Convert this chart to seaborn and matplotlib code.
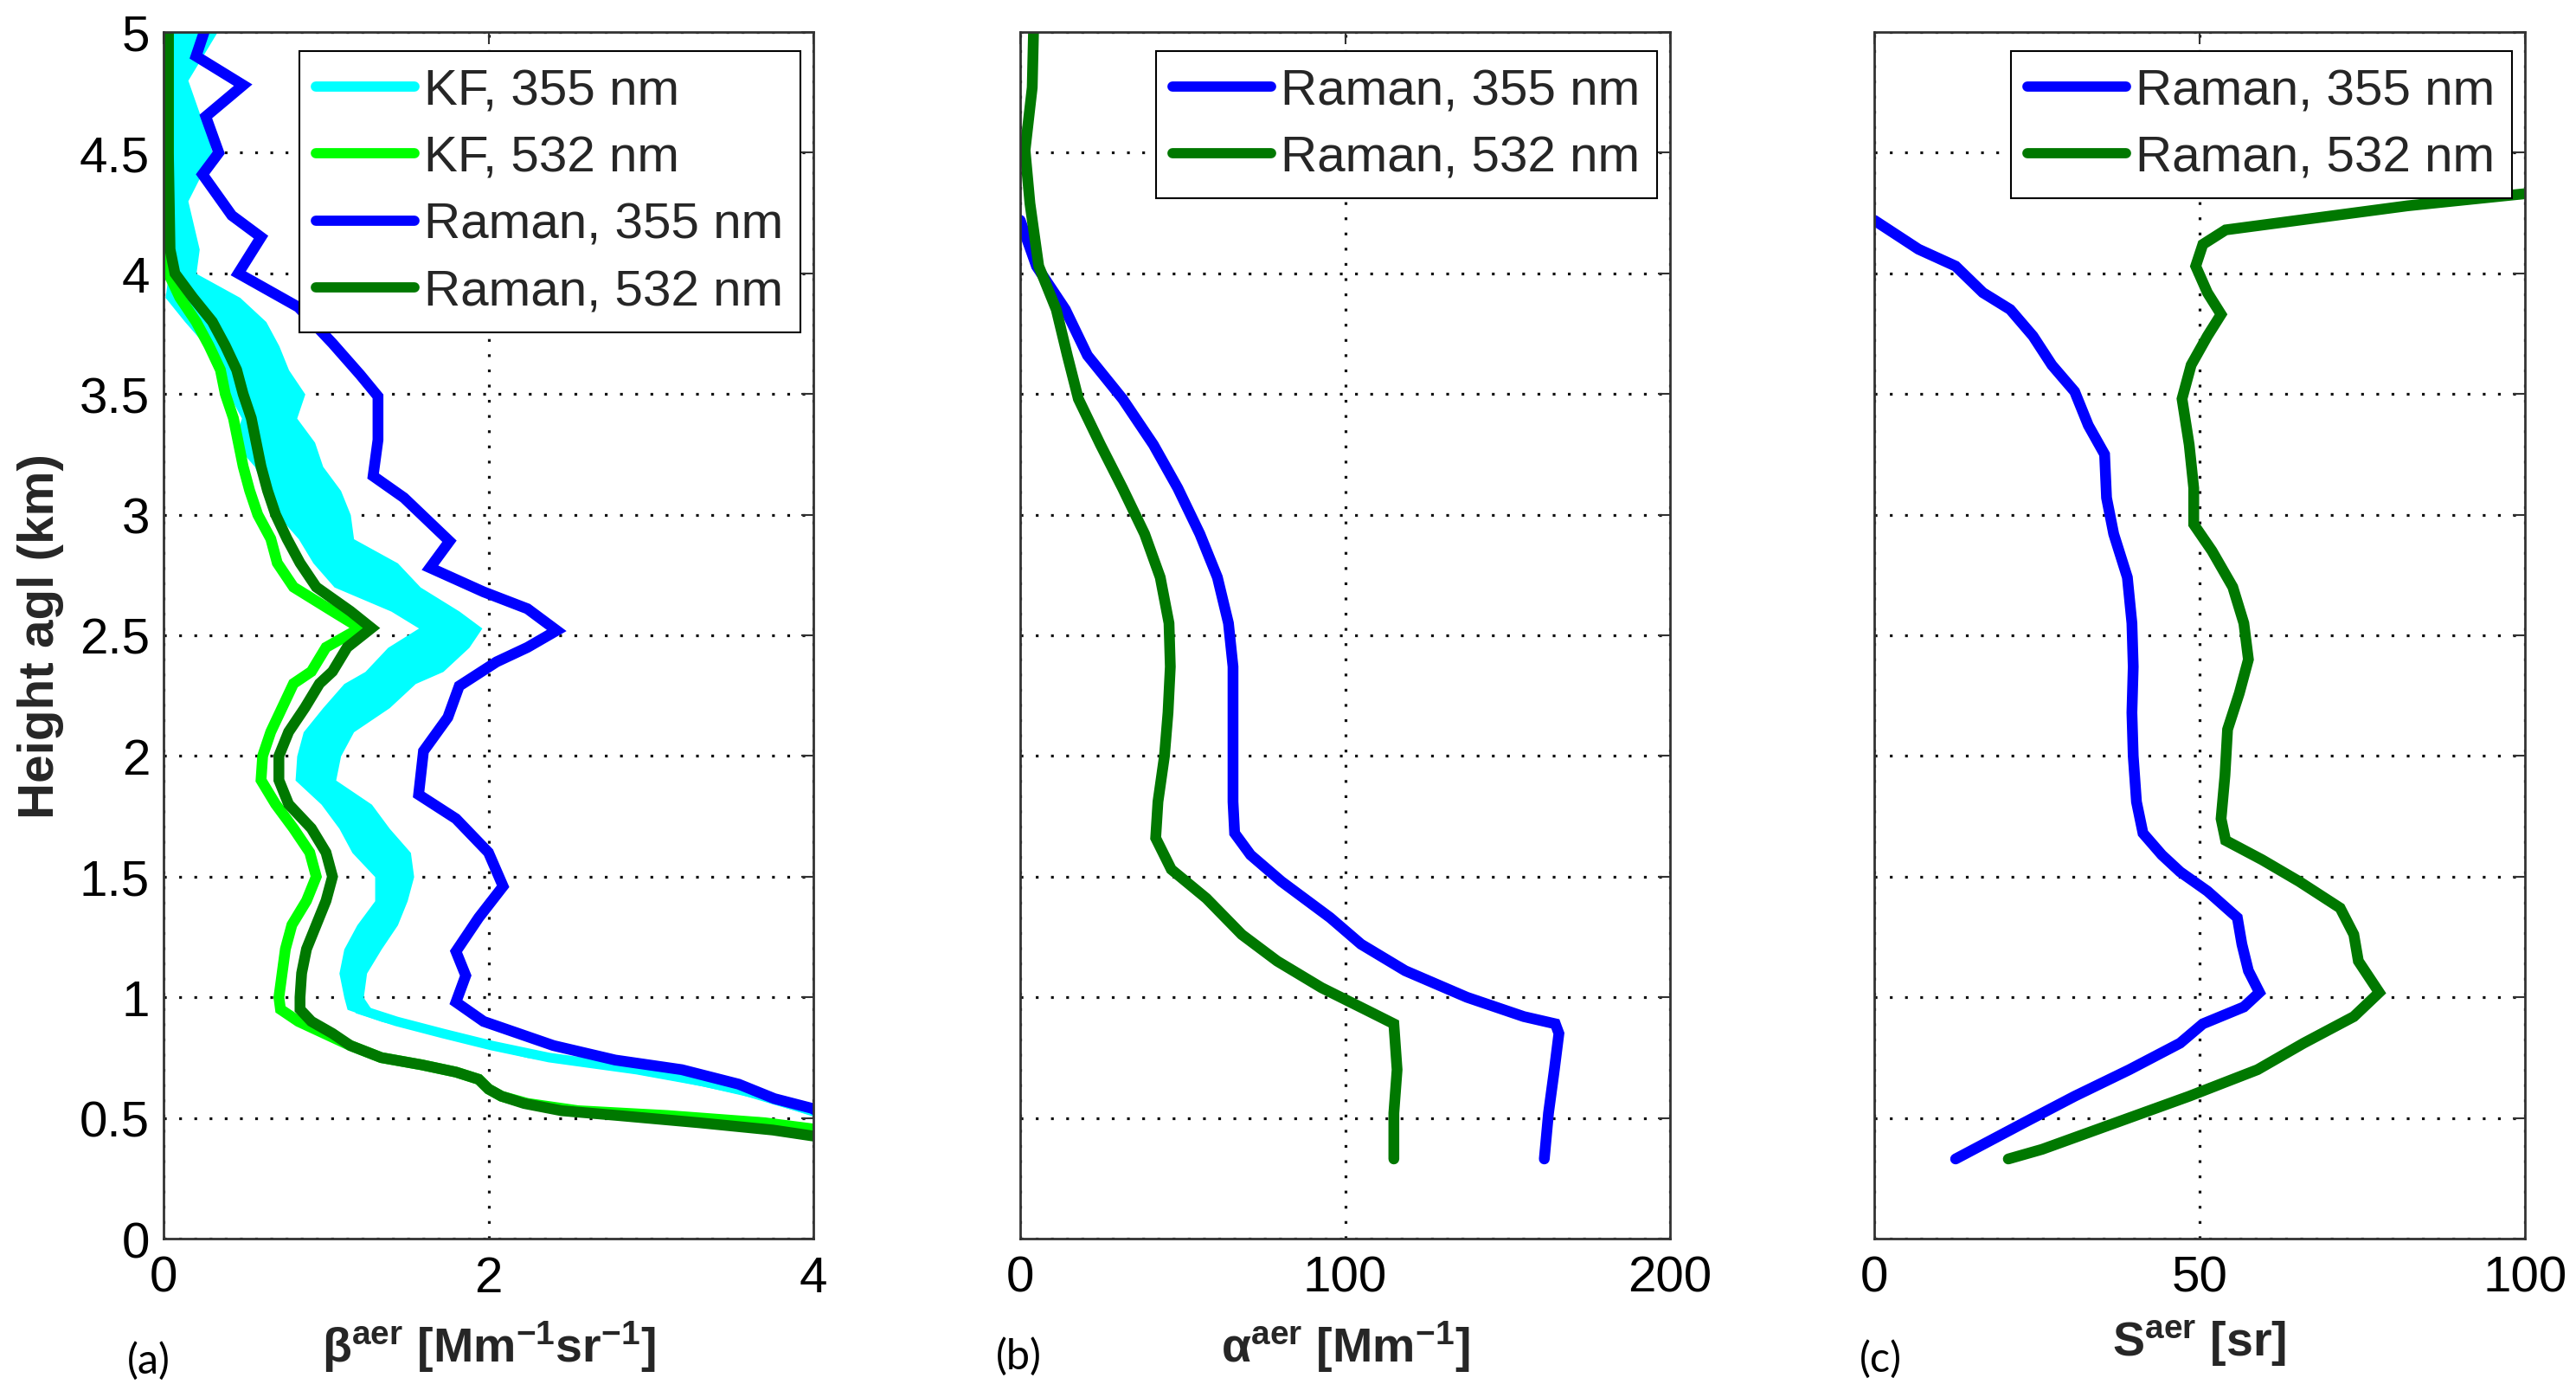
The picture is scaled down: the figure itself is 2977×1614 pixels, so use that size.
import matplotlib
matplotlib.use("Agg")
import matplotlib.pyplot as plt
import seaborn as sns
import numpy as np
import pandas as pd

# ---------------- data ----------------
# Panel (a): backscatter coefficient [Mm-1 sr-1] vs height [km]
h_b355_raman = [5.0, 4.9, 4.78, 4.65, 4.5, 4.41, 4.24, 4.15, 4.0, 3.86, 3.71, 3.58, 3.49, 3.31,
                3.16, 3.07, 2.89, 2.78, 2.68, 2.61, 2.52, 2.45, 2.39, 2.29, 2.16, 2.02, 1.84, 1.74,
                1.6, 1.46, 1.33, 1.19, 1.09, 0.98, 0.90, 0.80, 0.74, 0.70, 0.64, 0.58, 0.54, 0.50]
b355_raman = [0.25, 0.2, 0.49, 0.26, 0.34, 0.24, 0.42, 0.6, 0.46, 0.83, 1.04, 1.21, 1.32, 1.32,
              1.29, 1.48, 1.76, 1.64, 1.97, 2.24, 2.42, 2.24, 2.05, 1.82, 1.75, 1.60, 1.57, 1.80,
              2.0, 2.09, 1.94, 1.80, 1.86, 1.80, 1.97, 2.40, 2.78, 3.19, 3.54, 3.76, 3.99, 4.1]

h_b355_kf = [5.0, 4.8, 4.55, 4.5, 4.3, 4.1, 4.0, 3.9, 3.8, 3.7, 3.6, 3.5, 3.4, 3.3, 3.2, 3.1, 3.0,
             2.9, 2.8, 2.7, 2.6, 2.53, 2.45, 2.35, 2.3, 2.2, 2.1, 2.0, 1.9, 1.8, 1.7, 1.6, 1.5, 1.4,
             1.3, 1.2, 1.1, 1.0, 0.95, 0.9, 0.85, 0.8, 0.75, 0.7, 0.65, 0.6, 0.55, 0.5]
b355_kf_lo = [0.05, 0.05, 0.05, 0.05, 0.05, 0.05, 0.03, 0.01, 0.13, 0.26, 0.32, 0.40, 0.48, 0.43,
              0.56, 0.62, 0.70, 0.83, 0.92, 1.05, 1.40, 1.57, 1.38, 1.24, 1.11, 0.98, 0.86, 0.82,
              0.81, 0.97, 1.08, 1.16, 1.30, 1.30, 1.19, 1.11, 1.08, 1.11, 1.13, 1.34, 1.64, 1.94,
              2.24, 2.78, 3.19, 3.54, 3.79, 4.05]
b355_kf_hi = [0.33, 0.15, 0.28, 0.30, 0.15, 0.22, 0.20, 0.47, 0.63, 0.71, 0.77, 0.87, 0.82, 0.93,
              0.98, 1.09, 1.15, 1.17, 1.44, 1.58, 1.82, 1.96, 1.88, 1.72, 1.55, 1.39, 1.17, 1.09,
              1.06, 1.28, 1.39, 1.52, 1.54, 1.50, 1.44, 1.34, 1.25, 1.23, 1.28, 1.53, 1.80, 2.10,
              2.51, 3.05, 3.46, 3.76, 3.99, 4.2]

h_b532 = [5.0, 4.5, 4.1, 4.0, 3.9, 3.8, 3.7, 3.6, 3.5, 3.4, 3.3, 3.2, 3.1, 3.0, 2.9, 2.8, 2.7, 2.6,
          2.53, 2.45, 2.35, 2.3, 2.2, 2.1, 2.0, 1.9, 1.8, 1.7, 1.6, 1.5, 1.4, 1.3, 1.2, 1.1, 1.0,
          0.95, 0.9, 0.85, 0.8, 0.75, 0.72, 0.69, 0.66, 0.62, 0.59, 0.56, 0.53, 0.51, 0.48, 0.45, 0.42]
b532_kf = [0.03, 0.03, 0.03, 0.03, 0.10, 0.20, 0.28, 0.35, 0.38, 0.43, 0.46, 0.49, 0.53, 0.58, 0.66,
           0.70, 0.80, 1.04, 1.21, 1.0, 0.91, 0.80, 0.73, 0.66, 0.61, 0.60, 0.69, 0.80, 0.90, 0.94,
           0.88, 0.79, 0.75, 0.73, 0.71, 0.72, 0.83, 0.99, 1.15, 1.34, 1.59, 1.80, 1.94, 2.0, 2.08,
           2.24, 2.55, 3.1, 3.7, 4.05, 4.3]
b532_raman = [0.03, 0.03, 0.04, 0.07, 0.18, 0.30, 0.38, 0.45, 0.49, 0.54, 0.57, 0.60, 0.64, 0.69,
              0.76, 0.84, 0.94, 1.15, 1.28, 1.13, 1.04, 0.96, 0.87, 0.77, 0.71, 0.71, 0.77, 0.91,
              1.0, 1.04, 1.0, 0.94, 0.88, 0.85, 0.84, 0.84, 0.91, 1.04, 1.15, 1.34, 1.59, 1.80, 1.94,
              2.0, 2.08, 2.22, 2.45, 2.8, 3.3, 3.75, 4.05]

# Panel (b): extinction coefficient [Mm-1]
h_a355 = [4.22, 4.03, 3.85, 3.66, 3.48, 3.29, 3.11, 2.92, 2.74, 2.55, 2.37, 2.18, 2.0, 1.81, 1.68,
          1.59, 1.48, 1.33, 1.22, 1.11, 1.0, 0.92, 0.89, 0.85, 0.70, 0.52, 0.33]
a355 = [0, 5, 13.9, 20.7, 31.5, 41, 48.5, 55.3, 60.7, 64.1, 65.5, 65.5, 65.5, 65.5, 66, 70.9, 80.4,
        95.4, 104.9, 118.5, 137.5, 155, 164.7, 165.8, 164.4, 162.6, 161.3]
h_a532 = [5.0, 4.77, 4.51, 4.29, 4.03, 3.85, 3.66, 3.48, 3.29, 3.11, 2.92, 2.74, 2.55, 2.37, 2.18,
          2.0, 1.81, 1.66, 1.53, 1.41, 1.26, 1.15, 1.04, 0.94, 0.89, 0.70, 0.52, 0.33]
a532 = [4.1, 3.7, 1.5, 3.0, 5.7, 11.1, 14.5, 17.9, 24.7, 31.5, 38.3, 43.1, 45.8, 46.2, 45.5, 44.4,
        42.4, 41.7, 46.5, 57.3, 68.2, 79.1, 92.7, 107.6, 115, 116, 115, 115]

# Panel (c): lidar ratio [sr]
h_s355 = [4.22, 4.1, 4.03, 3.92, 3.85, 3.74, 3.62, 3.51, 3.37, 3.25, 3.07, 2.92, 2.74, 2.55, 2.37,
          2.18, 2.0, 1.81, 1.68, 1.59, 1.52, 1.44, 1.33, 1.22, 1.11, 1.02, 0.96, 0.89, 0.81, 0.70,
          0.59, 0.48, 0.41, 0.33]
s355 = [0, 6.8, 12.5, 16.7, 20.9, 24.4, 27.3, 30.8, 32.9, 35.4, 35.7, 36.8, 38.9, 39.6, 39.8, 39.6,
        39.8, 40.3, 41.3, 44.2, 47, 51.2, 55.8, 56.5, 57.5, 59.2, 56.8, 50.5, 47, 39.2, 30.8, 23,
        18.1, 12.5]
h_s532 = [4.36, 4.33, 4.28, 4.23, 4.18, 4.12, 4.03, 3.92, 3.83, 3.74, 3.62, 3.48, 3.29, 3.11, 2.96,
          2.85, 2.70, 2.55, 2.40, 2.26, 2.11, 1.92, 1.74, 1.65, 1.57, 1.48, 1.37, 1.26, 1.15, 1.02,
          0.92, 0.81, 0.70, 0.59, 0.48, 0.37, 0.33]
s532 = [110, 100, 82, 68, 54, 50.5, 49.4, 51.2, 53.3, 51.2, 48.7, 47.3, 48.4, 49.1, 49.1, 51.9, 55.1,
        56.8, 57.5, 56.1, 54.3, 53.9, 53.3, 54, 59.6, 65.3, 71.6, 73.7, 74.4, 77.6, 73.7, 66, 58.9,
        48.4, 37.1, 25.8, 20.6]

y_ticks = [0, 0.5, 1, 1.5, 2, 2.5, 3, 3.5, 4, 4.5, 5]
y_ticklabels = ["0", "0.5", "1", "1.5", "2", "2.5", "3", "3.5", "4", "4.5", "5"]
xticks_a = [0, 2, 4]
xticks_b = [0, 100, 200]
xticks_c = [0, 50, 100]
labels_a = ["KF, 355 nm", "KF, 532 nm", "Raman, 355 nm", "Raman, 532 nm"]
labels_bc = ["Raman, 355 nm", "Raman, 532 nm"]
xlabel_a = r"β$^{\mathbf{aer}}$ [Mm$^{\mathbf{-1}}$sr$^{\mathbf{-1}}$]"
xlabel_b = r"α$^{\mathbf{aer}}$ [Mm$^{\mathbf{-1}}$]"
xlabel_c = r"S$^{\mathbf{aer}}$ [sr]"
ylabel = "Height agl (km)"
panel_tags = ["(a)", "(b)", "(c)"]

# ---------------- style ----------------
sns.set_style("white")
plt.rcParams["font.family"] = ["Liberation Sans", "DejaVu Sans"]
plt.rcParams["mathtext.fontset"] = "custom"
plt.rcParams["mathtext.rm"] = "Liberation Sans"
plt.rcParams["mathtext.bf"] = "Liberation Sans:bold"
plt.rcParams["mathtext.it"] = "Liberation Sans:italic"

C_CYAN = "#00ffff"
C_LIME = "#00ff00"
C_BLUE = "#0000ff"
C_DKGREEN = "#007800"
LW = 9
TICK_FS = 42
LEG_FS = 42
AX_COLOR = "#333333"

W, H = 2977, 1615
fig = plt.figure(figsize=(W / 100, H / 100), dpi=100)
bottom = 1 - 1432 / H
height = 1394 / H
axA = fig.add_axes([189 / W, bottom, 751 / W, height])
axB = fig.add_axes([1179 / W, bottom, 751 / W, height])
axC = fig.add_axes([2166 / W, bottom, 752 / W, height])


def line(ax, x, y, color, label, lw=LW):
    df = pd.DataFrame({"x": x, "y": y})
    sns.lineplot(data=df, x="x", y="y", ax=ax, color=color, lw=lw, label=label,
                 sort=False, estimator=None, solid_joinstyle="miter")


# Panel a
axA.fill_betweenx(h_b355_kf, b355_kf_lo, b355_kf_hi, color=C_CYAN, lw=0, zorder=1.5)
kf_mid = [(a + b) / 2 for a, b in zip(b355_kf_lo, b355_kf_hi)]
line(axA, kf_mid, h_b355_kf, C_CYAN, labels_a[0], lw=8)
line(axA, b532_kf, h_b532, C_LIME, labels_a[1])
line(axA, b355_raman, h_b355_raman, C_BLUE, labels_a[2])
line(axA, b532_raman, h_b532, C_DKGREEN, labels_a[3])

# Panel b
line(axB, a355, h_a355, C_BLUE, labels_bc[0])
line(axB, a532, h_a532, C_DKGREEN, labels_bc[1])

# Panel c
line(axC, s355, h_s355, C_BLUE, labels_bc[0])
line(axC, s532, h_s532, C_DKGREEN, labels_bc[1])

for ax, xt, xl, lab in [(axA, xticks_a, xlabel_a, labels_a),
                        (axB, xticks_b, xlabel_b, labels_bc),
                        (axC, xticks_c, xlabel_c, labels_bc)]:
    ax.set_xlim(xt[0], xt[-1])
    ax.set_ylim(0, 5)
    ax.set_xticks(xt)
    ax.set_xticklabels([str(v) for v in xt])
    ax.set_yticks(y_ticks)
    ax.grid(True, color="#111111", linestyle=(0, (1, 4.5)), lw=2.3)
    ax.set_axisbelow(True)
    ax.tick_params(axis="both", which="both", direction="in", length=10, width=1.5,
                   color=AX_COLOR, top=True, right=True, labelsize=TICK_FS, labelcolor="black")
    ax.tick_params(axis="x", pad=13.5)
    ax.tick_params(axis="y", pad=11.5)
    for s in ax.spines.values():
        s.set_visible(True)
        s.set_color(AX_COLOR)
        s.set_linewidth(2)
    ax.set_xlabel(xl, fontsize=40, fontweight="bold")
    ax.xaxis.set_label_coords(0.5, -0.066)
    ax.set_ylabel("")
    leg = ax.legend(loc="upper right", fontsize=LEG_FS, frameon=True, fancybox=False,
                    framealpha=1, edgecolor="black", borderpad=0.33, labelspacing=0.4,
                    handlelength=1.95, handletextpad=0.2, borderaxespad=0,
                    bbox_to_anchor=(1 - 15 / 751, 1 - 22 / 1394))
    leg.get_frame().set_linewidth(1.5)
    for lh in leg.get_lines():
        lh.set_linewidth(8.5)

axA.set_yticklabels(y_ticklabels)
axB.set_yticklabels([])
axC.set_yticklabels([])
axA.set_ylabel(ylabel, fontsize=42, fontweight="bold")
axA.yaxis.set_label_coords((74 - 189) / 751, 0.5)

tag_pos = [(172, 1572), (1177, 1567), (2173, 1570)]
for tag, (px, py) in zip(panel_tags, tag_pos):
    fig.text(px / W, 1 - py / H, tag, fontsize=35, family=["Lato", "DejaVu Sans"],
             ha="center", va="center", color="black")

fig.savefig("out.png", dpi=100, facecolor="white")
